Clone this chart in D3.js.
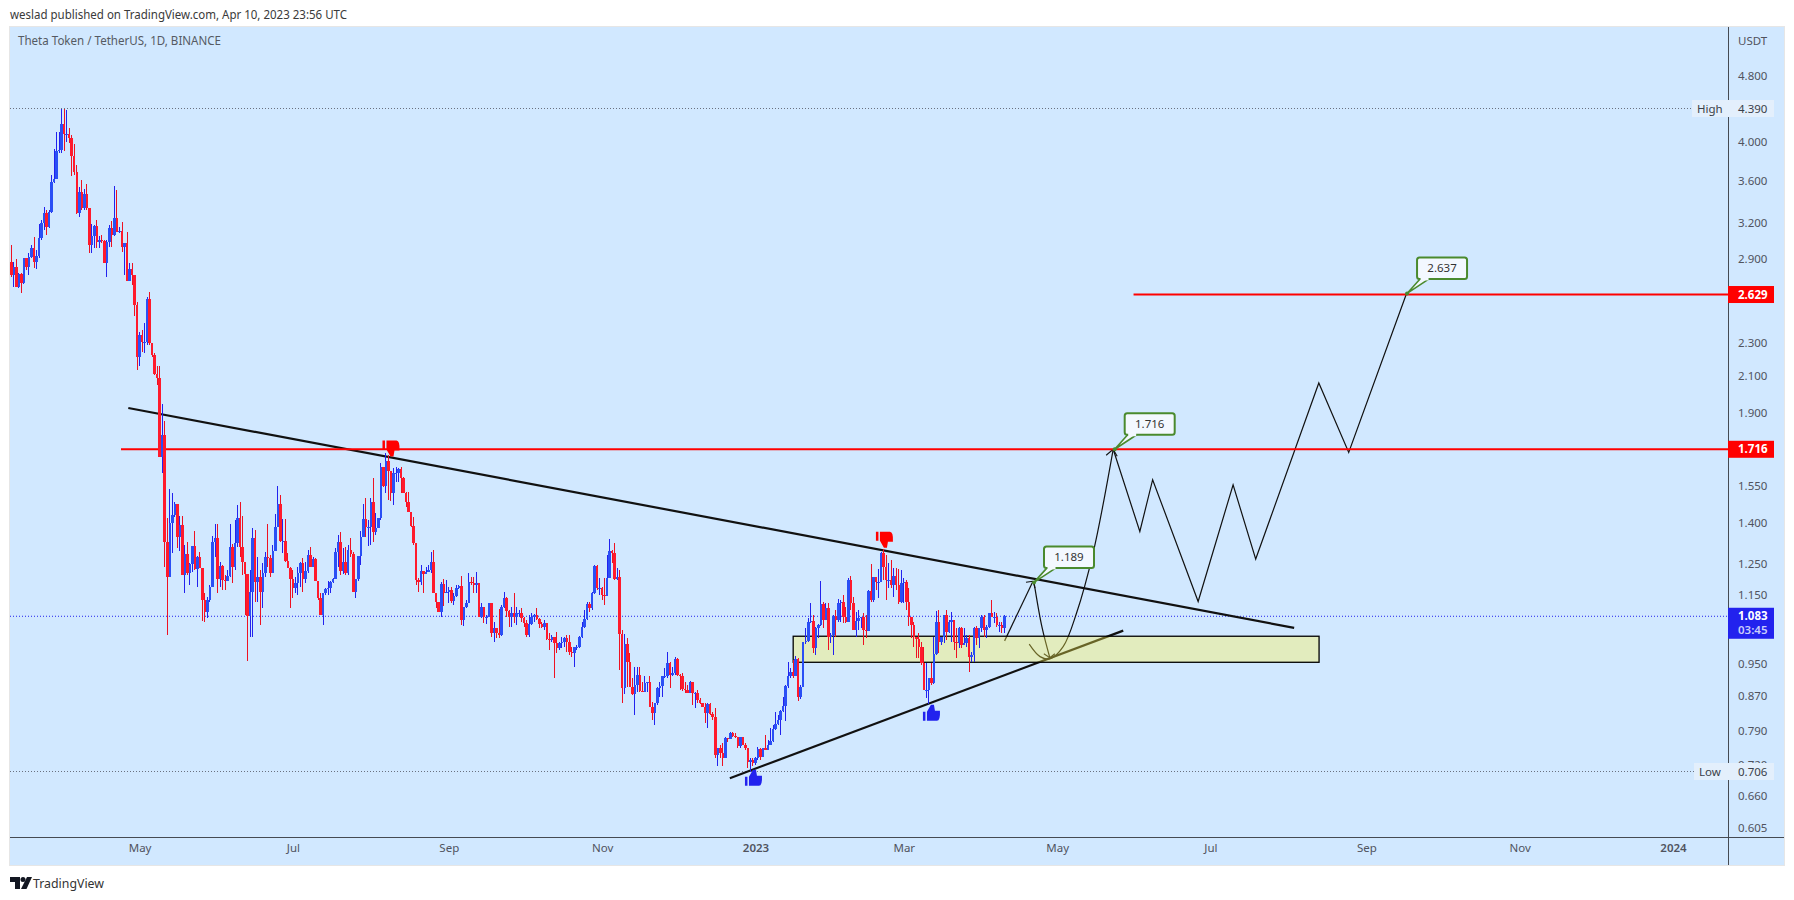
<!DOCTYPE html>
<html><head><meta charset="utf-8"><title>THETAUSDT</title>
<style>html,body{margin:0;padding:0;background:#fff}svg{display:block}text{font-family:"Noto Sans",sans-serif}</style>
<script src="https://cdnjs.cloudflare.com/ajax/libs/d3/7.8.5/d3.min.js"></script></head><body><svg id="c" width="1794" height="900"></svg>
<script>
const firstBarDate="2022-03-11", firstOpen=2.878;
const closes=[2.777,2.839,2.687,2.785,2.717,2.910,2.839,2.918,2.992,2.878,2.926,3.076,3.205,3.295,3.170,3.304,3.589,3.619,3.909,3.920,4.211,4.097,4.097,4.052,3.846,3.690,3.295,3.491,3.340,3.472,3.340,3.017,3.093,3.179,3.042,3.059,3.050,2.871,3.042,3.161,3.101,3.250,3.126,3.135,3.000,3.033,2.731,2.824,2.777,2.557,
2.215,2.353,2.306,2.306,2.599,2.300,2.228,2.113,2.091,1.681,1.787,1.330,1.207,1.401,1.432,1.477,1.348,1.393,1.214,1.285,1.221,1.251,1.315,1.234,1.275,1.238,1.133,1.096,1.133,1.175,1.330,1.344,1.200,1.244,1.197,1.194,1.210,1.312,1.241,1.326,1.421,1.312,1.258,1.217,1.084,1.158,1.344,1.191,1.207,1.158,
1.221,1.275,1.272,1.221,1.297,1.385,1.477,1.333,1.333,1.262,1.238,1.200,1.171,1.187,1.221,1.254,1.200,1.228,1.283,1.241,1.269,1.194,1.139,1.087,1.155,1.168,1.171,1.191,1.200,1.294,1.330,1.228,1.258,1.221,1.301,1.287,1.158,1.200,1.279,1.348,1.417,1.385,1.385,1.485,1.367,1.381,1.421,1.636,1.552,1.662,
1.617,1.522,1.609,1.609,1.626,1.587,1.522,1.485,1.444,1.389,1.326,1.197,1.191,1.228,1.217,1.224,1.231,1.258,1.155,1.127,1.096,1.184,1.155,1.158,1.165,1.130,1.146,1.171,1.178,1.072,1.111,1.123,1.191,1.187,1.181,1.187,1.081,1.111,1.081,1.081,1.123,1.034,1.049,1.034,1.029,1.111,1.139,1.099,1.081,1.093,
1.081,1.093,1.093,1.078,1.063,1.029,1.060,1.081,1.087,1.075,1.060,1.052,1.063,1.018,1.015,1.023,1.007,0.992,1.007,1.009,1.020,1.009,0.982,0.979,0.995,0.995,1.023,1.052,1.075,1.120,1.108,1.155,1.244,1.171,1.171,1.149,1.146,1.204,1.297,1.290,1.200,1.207,1.032,0.889,1.004,0.955,0.891,0.874,0.896,0.921,
0.881,0.879,0.901,0.904,0.844,0.829,0.853,0.889,0.894,0.918,0.918,0.952,0.921,0.926,0.963,0.921,0.919,0.886,0.884,0.877,0.904,0.877,0.877,0.860,0.853,0.844,0.829,0.851,0.827,0.821,0.739,0.753,0.743,0.733,0.775,0.772,0.786,0.779,0.777,0.758,0.777,0.760,0.753,0.725,0.729,0.723,0.733,0.751,0.735,0.753,
0.749,0.760,0.768,0.794,0.805,0.814,0.835,0.846,0.894,0.918,0.929,0.918,0.963,0.867,0.891,1.009,1.012,1.066,1.069,0.992,1.049,1.057,1.120,1.072,1.108,1.023,1.029,1.084,1.072,1.123,1.127,1.081,1.066,1.197,1.123,1.043,1.069,1.078,1.081,1.043,1.040,1.161,1.133,1.207,1.191,1.191,1.290,1.241,1.197,1.197,
1.181,1.210,1.181,1.127,1.187,1.191,1.127,1.081,1.057,1.023,1.018,0.995,0.952,0.884,0.884,0.913,0.901,0.976,1.066,1.009,1.023,1.087,1.037,1.066,1.072,1.009,1.007,1.049,1.001,1.007,1.020,0.968,0.973,1.049,1.020,1.049,1.081,1.043,1.052,1.093,1.081,1.081,1.057,1.057,1.049,1.083];
const highs=[3.017,2.878,2.902,2.793,2.793,2.910,2.910,2.950,3.017,3.084,2.975,3.196,3.232,3.350,3.322,3.322,3.659,3.931,4.119,4.119,4.390,4.390,4.377,4.165,4.086,3.986,3.761,3.540,3.609,3.521,3.569,3.340,3.196,3.188,3.232,3.093,3.101,3.059,3.059,3.188,3.223,3.550,3.511,3.170,3.214,3.033,3.126,2.871,2.871,2.777,
2.578,2.373,2.386,2.433,2.613,2.650,2.300,2.240,2.160,2.160,1.945,1.857,1.421,1.539,1.522,1.485,1.477,1.428,1.428,1.319,1.330,1.254,1.315,1.370,1.279,1.294,1.238,1.155,1.143,1.181,1.352,1.397,1.397,1.258,1.248,1.214,1.231,1.397,1.322,1.413,1.472,1.485,1.428,1.258,1.158,1.231,1.381,1.374,1.275,1.231,
1.254,1.294,1.397,1.283,1.319,1.436,1.552,1.514,1.417,1.417,1.290,1.241,1.231,1.207,1.241,1.258,1.272,1.258,1.301,1.312,1.275,1.272,1.194,1.155,1.155,1.171,1.194,1.194,1.204,1.308,1.355,1.367,1.308,1.312,1.319,1.344,1.294,1.200,1.279,1.370,1.477,1.501,1.413,1.501,1.587,1.440,1.421,1.653,1.636,1.700,
1.690,1.613,1.631,1.636,1.631,1.636,1.591,1.527,1.527,1.444,1.425,1.326,1.204,1.248,1.228,1.241,1.248,1.294,1.301,1.155,1.127,1.191,1.200,1.197,1.175,1.175,1.155,1.181,1.181,1.210,1.111,1.133,1.221,1.207,1.207,1.224,1.187,1.123,1.111,1.087,1.123,1.123,1.066,1.049,1.105,1.117,1.158,1.143,1.102,1.111,
1.155,1.111,1.102,1.108,1.081,1.072,1.087,1.093,1.090,1.108,1.078,1.066,1.072,1.063,1.034,1.029,1.015,1.037,1.009,1.023,1.023,1.029,1.029,0.995,0.995,1.001,1.026,1.066,1.102,1.127,1.127,1.158,1.248,1.248,1.204,1.175,1.204,1.283,1.341,1.301,1.326,1.238,1.231,1.043,1.032,1.020,0.979,0.914,0.942,0.942,
0.942,0.904,0.918,0.904,0.918,0.856,0.853,0.891,0.904,0.918,0.939,0.982,0.955,0.942,0.968,0.965,0.924,0.926,0.904,0.896,0.906,0.904,0.879,0.884,0.865,0.853,0.853,0.853,0.853,0.832,0.842,0.753,0.760,0.764,0.777,0.775,0.788,0.788,0.786,0.777,0.777,0.777,0.764,0.753,0.733,0.733,0.735,0.755,0.753,0.753,
0.781,0.770,0.797,0.803,0.832,0.825,0.837,0.867,0.896,0.955,0.939,0.960,0.971,0.965,0.896,1.009,1.049,1.078,1.123,1.087,1.052,1.060,1.194,1.127,1.123,1.123,1.034,1.087,1.102,1.136,1.133,1.149,1.111,1.204,1.210,1.143,1.096,1.102,1.081,1.093,1.087,1.165,1.251,1.207,1.207,1.234,1.294,1.305,1.283,1.254,
1.265,1.238,1.238,1.234,1.231,1.204,1.197,1.171,1.081,1.066,1.023,1.034,1.009,0.995,0.952,0.914,0.952,1.023,1.099,1.102,1.023,1.087,1.102,1.072,1.096,1.066,1.049,1.052,1.052,1.049,1.029,1.029,0.982,1.052,1.055,1.049,1.087,1.087,1.057,1.093,1.133,1.096,1.093,1.066,1.066,1.087];
const lows=[2.762,2.687,2.687,2.680,2.643,2.709,2.816,2.777,2.910,2.831,2.824,2.910,3.059,3.144,3.101,3.161,3.295,3.579,3.619,3.887,3.887,3.909,4.008,3.997,3.640,3.659,3.286,3.259,3.322,3.322,3.322,2.950,2.950,2.992,2.992,2.992,3.033,2.871,2.762,3.000,3.000,3.093,3.126,3.118,2.959,2.777,2.731,2.739,2.702,2.480,
2.137,2.160,2.246,2.240,2.289,2.289,2.215,2.108,2.050,1.681,1.608,1.241,1.029,1.207,1.290,1.425,1.308,1.297,1.214,1.155,1.214,1.181,1.224,1.231,1.175,1.238,1.069,1.066,1.078,1.127,1.175,1.275,1.155,1.175,1.165,1.165,1.197,1.207,1.187,1.231,1.312,1.275,1.214,1.087,0.957,1.023,1.023,1.127,1.127,1.057,
1.108,1.207,1.241,1.207,1.221,1.297,1.385,1.330,1.290,1.258,1.238,1.108,1.139,1.155,1.149,1.175,1.158,1.187,1.221,1.241,1.241,1.194,1.133,1.087,1.057,1.149,1.149,1.155,1.187,1.200,1.241,1.214,1.217,1.214,1.214,1.275,1.158,1.139,1.194,1.248,1.348,1.348,1.315,1.319,1.330,1.355,1.381,1.413,1.548,1.522,
1.493,1.489,1.472,1.569,1.569,1.522,1.522,1.465,1.444,1.385,1.319,1.181,1.158,1.181,1.155,1.217,1.224,1.221,1.155,1.108,1.096,1.081,1.114,1.155,1.123,1.123,1.117,1.143,1.168,1.057,1.055,1.108,1.123,1.181,1.155,1.155,1.081,1.078,1.063,1.060,1.081,1.023,1.009,1.020,1.020,1.026,1.108,1.081,1.052,1.052,
1.063,1.057,1.081,1.066,1.052,1.023,1.023,1.057,1.066,1.072,1.049,1.049,1.043,1.015,0.987,1.009,0.914,0.979,0.987,0.992,0.995,0.982,0.973,0.968,0.942,0.987,0.992,1.020,1.049,1.072,1.096,1.102,1.152,1.165,1.149,1.133,1.117,1.146,1.204,1.254,1.197,1.197,0.934,0.853,0.874,0.891,0.891,0.872,0.825,0.879,
0.879,0.879,0.879,0.879,0.844,0.814,0.803,0.848,0.867,0.867,0.914,0.914,0.889,0.919,0.921,0.918,0.884,0.881,0.877,0.877,0.877,0.848,0.842,0.853,0.851,0.844,0.807,0.796,0.825,0.814,0.733,0.716,0.733,0.716,0.733,0.766,0.772,0.777,0.775,0.753,0.753,0.760,0.749,0.712,0.706,0.716,0.718,0.729,0.729,0.735,
0.749,0.749,0.760,0.766,0.792,0.803,0.781,0.832,0.811,0.889,0.914,0.914,0.918,0.858,0.862,0.891,1.004,1.009,1.063,0.979,0.973,1.020,1.055,1.049,1.072,0.987,1.007,0.973,1.023,1.066,1.066,1.063,1.063,1.069,1.102,1.043,1.023,1.043,1.049,1.001,1.020,1.078,1.127,1.127,1.165,1.139,1.191,1.197,1.133,1.171,
1.171,1.143,1.165,1.120,1.123,1.123,1.102,1.055,1.020,0.995,0.965,0.965,0.947,0.884,0.865,0.851,0.896,0.899,0.973,0.979,1.001,1.007,1.015,1.034,1.009,0.987,0.965,0.992,0.992,1.004,0.995,0.929,0.955,0.955,1.001,0.992,1.037,1.023,1.020,1.049,1.081,1.063,1.052,1.037,1.034,1.034];
const priceTicks=[4.8,4.0,3.6,3.2,2.9,2.3,2.1,1.9,1.55,1.4,1.25,1.15,0.95,0.87,0.79,0.72,0.66,0.605];
const timeTicks=["2022-05-01","2022-07-01","2022-09-01","2022-11-01","2023-01-01","2023-03-01","2023-05-01","2023-07-01","2023-09-01","2023-11-01","2024-01-01"];
const highPrice=4.390, lowPrice=0.706, lastPrice=1.083, upperLevel=2.629, lowerLevel=1.716;
// drawings: [days after first bar, price]
const resistanceLine=[[46.5,1.923],[510.3,1.049]];
const supportLine=[[285.8,0.693],[442.3,1.041]];
const lowerLevelStart=43.6, upperLevelStart=446.4;
const zone=[[311,1.025],[520.2,0.954]];
const pathA=[[395.1,1.012],[406.4,1.193]];
const pathB=[[406.8,1.189],[410,1.05],[413.1,0.966]];
const arc=[[404.9,1.003],[409.2,0.969],[413.1,0.963],[418.4,0.996],[423.7,1.092],[430.3,1.289],[438.3,1.716]];
const zigzag=[[438.3,1.716],[448.9,1.368],[454,1.578],[472.1,1.128],[486,1.556],[495,1.268],[520.1,2.060],[532,1.701],[555,2.636]];
const callouts=[[406.8,1.189,"1.189"],[438.9,1.716,"1.716"],[555.2,2.637,"2.637"]];
const thumbsDown=[[150.8,1.72],[347.1,1.337]];
const thumbsUp=[[295,0.694],[365.8,0.83]];

const blue="#2a4ff5", blueWick="#2222ee", red="#ff1a2c", redWick="#ee1122";
const L=10,R=1728,T=27,B=837,PR=1784,PB=865;
const start=new Date(firstBarDate+"T00:00:00Z");
const day=n=>new Date(start.getTime()+n*864e5);
const x=d3.scaleUtc().domain([start,new Date("2024-01-01T00:00:00Z")]).range([11.4,1673]);
const y=d3.scaleLog().domain([lowPrice,highPrice]).range([771.5,108.5]);
const X=n=>x(day(n));
const bars=closes.map((c,i)=>({i,o:i?closes[i-1]:firstOpen,c,h:highs[i],l:lows[i]}));
const svg=d3.select("#c");
svg.append("text").attr("x",10).attr("y",19).attr("font-size",12).attr("fill","#3a3a3a").attr("textLength",337).attr("lengthAdjust","spacingAndGlyphs").text("weslad published on TradingView.com, Apr 10, 2023 23:56 UTC");
svg.append("rect").attr("x",L-.5).attr("y",T-.5).attr("width",PR-L+1).attr("height",PB-T+1).attr("fill","#d1e8ff").attr("stroke","#e6e6e6");
const defs=svg.append("defs");
defs.append("clipPath").attr("id","pl").append("rect").attr("x",L).attr("y",T).attr("width",R-L).attr("height",B-T);
const plot=svg.append("g").attr("clip-path","url(#pl)");
svg.append("text").attr("x",18).attr("y",45).attr("font-size",12).attr("fill","#555a63").attr("textLength",203).attr("lengthAdjust","spacingAndGlyphs").text("Theta Token / TetherUS, 1D, BINANCE");
const hline=(p,col,x2,da)=>plot.append("line").attr("x1",L).attr("x2",x2).attr("y1",y(p)).attr("y2",y(p)).attr("stroke",col).attr("stroke-dasharray",da).attr("stroke-width",1);
hline(highPrice,"#6a7180",1692,"1 2");
hline(lowPrice,"#6a7180",1694,"1 2");
hline(lastPrice,blueWick,R,"1 2");
const ln=d3.line().x(d=>X(d[0])).y(d=>y(d[1]));
const thick=(d,w,c)=>plot.append("path").attr("d",d).attr("fill","none").attr("stroke",c).attr("stroke-width",w);
thick(ln(resistanceLine),2.2,"#111");
thick(ln(supportLine),2.2,"#111");
thick(ln(pathA),1.2,"#111");
thick(d3.line().x(d=>X(d[0])).y(d=>y(d[1])).curve(d3.curveCatmullRom)(pathB),1.2,"#111");
thick(d3.line().x(d=>X(d[0])).y(d=>y(d[1])).curve(d3.curveCatmullRom)(arc),1.2,"#111");
thick(ln(zigzag),1.2,"#111");
// arrow wings at the ends of the paths
const wings=(p,pts)=>{const px=X(p[0]),py=y(p[1]);pts.forEach(q=>plot.append("line").attr("x1",px).attr("y1",py).attr("x2",px+q[0]).attr("y2",py+q[1]).attr("stroke","#111").attr("stroke-width",1.1));};
wings(pathA[1],[[-7,1],[2,7]]);
wings(pathB[2],[[-6,-4],[5,-4]]);
wings(arc[6],[[-7,6],[4,7]]);
plot.append("rect").attr("x",X(zone[0][0])).attr("y",y(zone[0][1])).attr("width",X(zone[1][0])-X(zone[0][0])).attr("height",y(zone[1][1])-y(zone[0][1])).attr("fill","rgb(255,243,80)").attr("fill-opacity",.37).attr("stroke","#000").attr("stroke-width",1.3);
// horizontal levels
plot.append("line").attr("x1",X(lowerLevelStart)).attr("x2",R).attr("y1",y(lowerLevel)).attr("y2",y(lowerLevel)).attr("stroke","#ff0000").attr("stroke-width",2);
plot.append("line").attr("x1",X(upperLevelStart)).attr("x2",R).attr("y1",y(upperLevel)).attr("y2",y(upperLevel)).attr("stroke","#ff0000").attr("stroke-width",2);
// candles
const g=plot.append("g").attr("shape-rendering","crispEdges");
g.selectAll("line").data(bars).join("line").attr("x1",d=>X(d.i)).attr("x2",d=>X(d.i)).attr("y1",d=>y(d.h)).attr("y2",d=>y(d.l)).attr("stroke",d=>d.c>=d.o?blueWick:redWick).attr("stroke-width",1);
g.selectAll("rect").data(bars).join("rect").attr("x",d=>X(d.i)-1.25).attr("width",2.5).attr("y",d=>y(Math.max(d.o,d.c))).attr("height",d=>Math.max(1,Math.abs(y(d.o)-y(d.c)))).attr("fill",d=>d.c>=d.o?blue:red);
// thumbs
const thumb="M-4,-1L0,-8L3,-8L4,-2L9,-2Q9.5,8 6,8L-4,8ZM-8,-1L-5.5,-1L-5.5,8L-8,8Z";
thumbsUp.forEach(t=>plot.append("path").attr("d",thumb).attr("fill","#2222ee").attr("transform",`translate(${X(t[0])},${y(t[1])})`));
thumbsDown.forEach(t=>plot.append("path").attr("d",thumb).attr("fill","#ff0000").attr("transform",`translate(${X(t[0])},${y(t[1])}) scale(1,-1)`));
// callouts
callouts.forEach(c=>{
  const px=X(c[0]),py=y(c[1]),bx=px+10,by=py-36,bw=50,bh=21.5;
  const G=svg.append("g");
  G.append("path").attr("d",`M${px},${py}L${bx+3},${by+bh}L${bx+12},${by+bh}Z`).attr("fill","#f3f8ff").attr("stroke","#4a8a2e").attr("stroke-width",1.6).attr("stroke-linejoin","round");
  G.append("rect").attr("x",bx).attr("y",by).attr("width",bw).attr("height",bh).attr("rx",2.5).attr("fill","#f3f8ff").attr("stroke","#4a8a2e").attr("stroke-width",2);
  G.append("rect").attr("x",bx+3.5).attr("y",by+bh-2).attr("width",8).attr("height",3.5).attr("fill","#f3f8ff");
  G.append("circle").attr("cx",px).attr("cy",py).attr("r",2).attr("fill","#4a8a2e");
  G.append("text").attr("x",bx+bw/2).attr("y",by+bh/2+4).attr("text-anchor","middle").attr("font-size",11.5).attr("fill","#333").text(c[2]);
});
// axes
svg.append("line").attr("x1",R+.5).attr("x2",R+.5).attr("y1",T).attr("y2",PB).attr("stroke","#454a52");
svg.append("line").attr("x1",L).attr("x2",PR).attr("y1",B+.5).attr("y2",B+.5).attr("stroke","#454a52");
const ay=d3.axisRight(y).tickValues(priceTicks).tickSize(0).tickPadding(10).tickFormat(d3.format(".3f"));
const axY=svg.append("g").attr("transform",`translate(${R},0)`).call(ay);
axY.select(".domain").remove();
axY.selectAll("text").attr("font-size",11.5).attr("fill","#50535e").style("font-family",'"Noto Sans",sans-serif');
const ax=d3.axisBottom(x).tickValues(timeTicks.map(s=>new Date(s+"T00:00:00Z"))).tickSize(0).tickPadding(7).tickFormat(d=>d.getUTCMonth()===0?d3.utcFormat("%Y")(d):d3.utcFormat("%b")(d));
const axX=svg.append("g").attr("transform",`translate(0,${B})`).call(ax);
axX.select(".domain").remove();
axX.selectAll("text").attr("font-size",11.5).attr("fill","#50535e").style("font-family",'"Noto Sans",sans-serif').attr("font-weight",d=>d.getUTCMonth()===0?600:400);
const tag=(x0,w,p,h,fill)=>svg.append("rect").attr("x",x0).attr("width",w).attr("y",y(p)-h/2).attr("height",h).attr("fill",fill);
const lab=(tx,p,s,col,w,dy=4,anchor="start")=>svg.append("text").attr("x",tx).attr("y",y(p)+dy).attr("font-size",11.5).attr("fill",col).attr("font-weight",w).attr("text-anchor",anchor).text(s);
const pf=d3.format(".3f");
svg.append("text").attr("x",1738).attr("y",45).attr("font-size",11.5).attr("fill","#50535e").text("USDT");
tag(1692,82,highPrice,17,"#e3effc"); lab(1697,highPrice,"High","#3a3f4a",400); lab(1738,highPrice,pf(highPrice),"#3a3f4a",400);
tag(1694,80,lowPrice,17,"#e3effc"); lab(1699,lowPrice,"Low","#3a3f4a",400); lab(1738,lowPrice,pf(lowPrice),"#3a3f4a",400);
tag(R,46,upperLevel,17,"#ff0000"); lab(1738,upperLevel,pf(upperLevel),"#fff",700);
tag(R,46,lowerLevel,17,"#ff0000"); lab(1738,lowerLevel,pf(lowerLevel),"#fff",700);
svg.append("rect").attr("x",R).attr("y",y(lastPrice)-8.5).attr("width",46).attr("height",31).attr("fill","#2222ee");
lab(1738,lastPrice,pf(lastPrice),"#fff",700);
lab(1738,lastPrice,"03:45","#c9cdfb",600,18);
// footer logo
const f=svg.append("g").attr("fill","#131722");
f.append("path").attr("d","M10,877L20,877L20,889L15,889L15,882L10,882Z");
f.append("circle").attr("cx",23).attr("cy",879.5).attr("r",2.5);
f.append("path").attr("d","M27,877L32,877L26.5,889L21,889Z");
svg.append("text").attr("x",33).attr("y",888).attr("font-size",13).attr("fill","#333").attr("textLength",71).attr("lengthAdjust","spacingAndGlyphs").text("TradingView");
</script></body></html>
